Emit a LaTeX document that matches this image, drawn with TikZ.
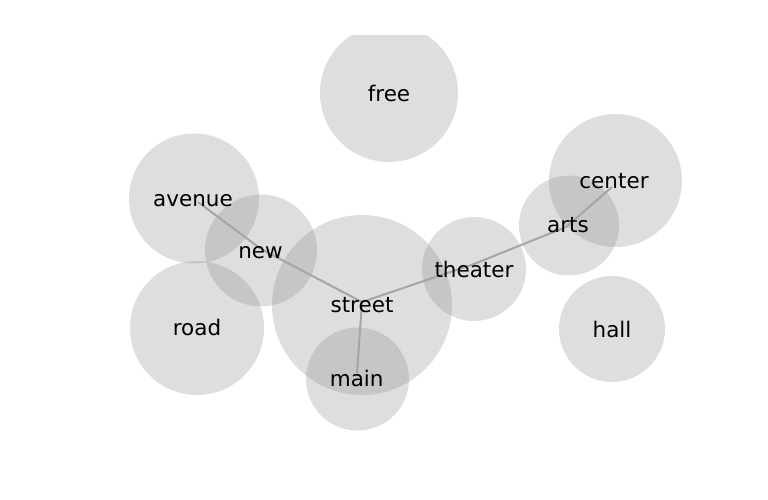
\documentclass[tikz,border=0pt]{standalone}
\usepackage{fontspec}
\setmainfont{DejaVu Sans}
\definecolor{bubble}{RGB}{128,128,128}
\definecolor{edgecol}{RGB}{165,165,165}
\begin{document}
\begin{tikzpicture}[x=1pt,y=-1pt,
  bubblestyle/.style={circle,fill=bubble,fill opacity=0.26,draw=none,inner sep=0pt},
  word/.style={inner sep=0pt,font=\fontsize{21.5}{24}\selectfont,text=black},
  link/.style={draw=edgecol,line width=2pt}]
\useasboundingbox (0,0) rectangle (768,500);
\begin{scope}
\clip (0,36) rectangle (768,500);
% bubbles
\node[bubblestyle,minimum size=138pt] (c-free) at (389,93) {};
\node[bubblestyle,minimum size=130pt] (c-avenue) at (194,198.5) {};
\node[bubblestyle,minimum size=112pt] (c-new) at (261,250.5) {};
\node[bubblestyle,minimum size=180pt] (c-street) at (362,305) {};
\node[bubblestyle,minimum size=134pt] (c-road) at (197,328) {};
\node[bubblestyle,minimum size=103pt] (c-main) at (357.5,379) {};
\node[bubblestyle,minimum size=104pt] (c-theater) at (474,269) {};
\node[bubblestyle,minimum size=100pt] (c-arts) at (569,225.5) {};
\node[bubblestyle,minimum size=133pt] (c-center) at (615.5,180.5) {};
\node[bubblestyle,minimum size=106pt] (c-hall) at (612,329) {};
\end{scope}
% graph points
\coordinate (p-avenue) at (198,202);
\coordinate (p-new) at (261,249);
\coordinate (p-street) at (362,302);
\coordinate (p-main) at (357,373);
\coordinate (p-theater) at (474,264);
\coordinate (p-arts) at (566,227);
\coordinate (p-center) at (612,187);
% links
\draw[link] (p-avenue) -- (p-new);
\draw[link] (p-new) -- (p-street);
\draw[link] (p-street) -- (p-main);
\draw[link] (p-street) -- (p-theater);
\draw[link] (p-theater) -- (p-arts);
\draw[link] (p-arts) -- (p-center);
% words
\node[word] (free) at (389,93) {free};
\node[word] (avenue) at (193,200.5) {avenue};
\node[word] (new) at (260.5,252.5) {new};
\node[word] (street) at (362,305) {street};
\node[word] (road) at (197,327.5) {road};
\node[word] (main) at (356.7,378.5) {main};
\node[word] (theater) at (474,269) {theater};
\node[word] (arts) at (568,225.5) {arts};
\node[word] (center) at (614,181.5) {center};
\node[word] (hall) at (612,329) {hall};
\end{tikzpicture}
\end{document}
